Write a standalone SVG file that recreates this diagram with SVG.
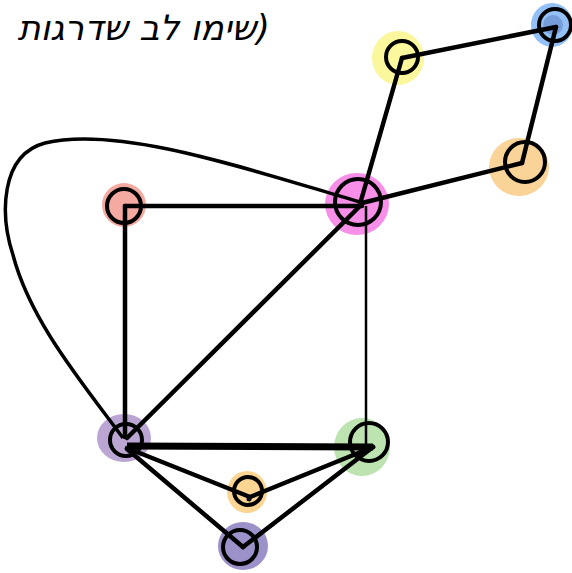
<svg xmlns="http://www.w3.org/2000/svg" width="572" height="573" viewBox="0 0 572 573">
<style>
.ring{fill:none;stroke:#000;stroke-width:4}
.e{stroke:#000;stroke-width:4.5;stroke-linecap:round;fill:none}
.t{font-family:"DejaVu Sans","Liberation Sans",sans-serif;font-size:35px;font-style:italic;fill:#000}
</style>
<rect width="572" height="573" fill="#fff"/>
<text class="t" x="270" y="40" direction="rtl" text-anchor="start">(שימו לב שדרגות</text>
<g id="blobs">
<ellipse cx="398" cy="58" rx="26" ry="27" fill="#fbf79c"/>
<ellipse cx="552" cy="25" rx="21" ry="22" fill="#93c0f6"/>
<circle cx="553" cy="25" r="10" fill="#6f93d3" opacity="0.8"/>
<ellipse cx="519" cy="167" rx="30" ry="29" fill="#f9d398"/>
<ellipse cx="357" cy="204" rx="32" ry="31" fill="#f78fe8"/>
<ellipse cx="124" cy="205" rx="22" ry="22" fill="#f4aaa0"/>
<ellipse cx="124" cy="438" rx="27" ry="24" fill="#bba5d2"/>
<ellipse cx="362" cy="447" rx="28" ry="29" fill="#bde3b1"/>
<ellipse cx="247" cy="492" rx="20" ry="21" fill="#fcd593"/>
<ellipse cx="243" cy="546" rx="25" ry="24" fill="#9c91c8"/>
</g>
<g id="edges">
<line class="e" x1="402" y1="58" x2="556" y2="27"/>
<line class="e" x1="556" y1="27" x2="522" y2="163"/>
<line class="e" x1="522" y1="163" x2="362" y2="203"/>
<line class="e" x1="402" y1="58" x2="360" y2="204"/>
<line class="e" x1="125" y1="206" x2="362" y2="206"/>
<line class="e" x1="125" y1="206" x2="125" y2="437"/>
<line class="e" x1="362" y1="204" x2="127" y2="438"/>
<line x1="366" y1="206" x2="366" y2="444" stroke="#000" stroke-width="2.5"/>
<path d="M 360 202 C 250 170 120 125 45 143 C 0 155 0 215 13 255 C 30 320 80 380 123 438" fill="none" stroke="#000" stroke-width="3.5"/>
<line x1="127" y1="446" x2="373" y2="447" stroke="#000" stroke-width="7"/>
<line class="e" x1="127" y1="448" x2="250" y2="497"/>
<line class="e" x1="373" y1="447" x2="250" y2="497"/>
<line class="e" x1="127" y1="449" x2="243" y2="547"/>
<line class="e" x1="373" y1="447" x2="243" y2="547"/>
<line class="e" x1="373" y1="447" x2="355" y2="455"/>
</g>
<g id="n-yellow"><circle class="ring" cx="402" cy="57" r="16"/></g>
<g id="n-blue"><circle class="ring" cx="555" cy="25" r="16"/></g>
<g id="n-orange"><circle class="ring" cx="525" cy="162" r="20"/></g>
<g id="n-pink"><circle class="ring" cx="358" cy="202" r="23"/></g>
<g id="n-red"><circle class="ring" cx="124" cy="206" r="17"/></g>
<g id="n-purple"><circle class="ring" cx="126" cy="440" r="16"/></g>
<g id="n-green"><circle class="ring" cx="369" cy="442" r="19"/></g>
<g id="n-smallorange"><circle class="ring" cx="248" cy="491" r="14"/><circle cx="249" cy="499" r="2.5" fill="#000"/></g>
<g id="n-bottom"><circle class="ring" cx="240" cy="547" r="17"/></g>
</svg>
